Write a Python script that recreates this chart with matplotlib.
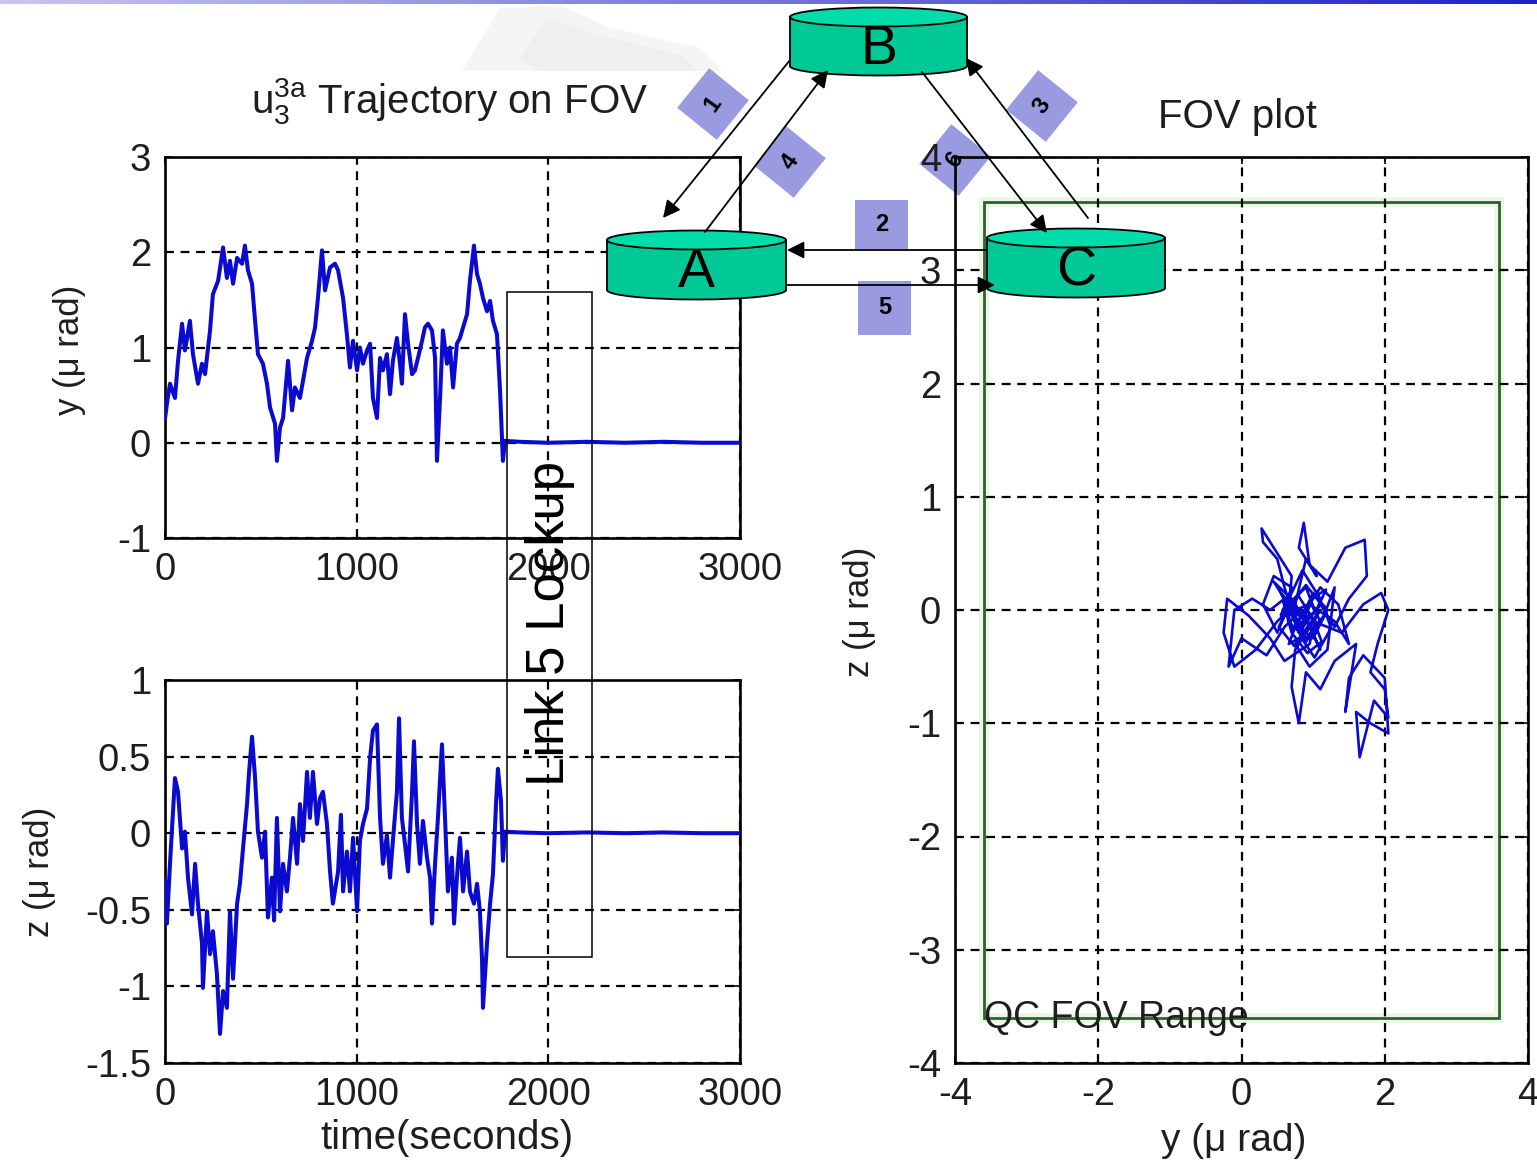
import numpy as np
import matplotlib
matplotlib.use('Agg')
import matplotlib.pyplot as plt
from matplotlib.patches import Ellipse, Rectangle, Polygon
import matplotlib.transforms as mtransforms

plt.rcParams['font.family'] = 'Liberation Sans'
plt.rcParams['mathtext.fontset'] = 'custom'
plt.rcParams['mathtext.rm'] = 'Liberation Sans'
plt.rcParams['mathtext.it'] = 'Liberation Sans'

# ---------------- data ----------------
# y-axis pointing error versus time (seconds, micro-radians)
t_y = [0, 10, 26, 52, 68, 89, 104, 130, 146, 172, 193, 209, 235, 250, 277, 303, 323, 339, 355,
       376, 402, 417, 433, 454, 470, 485, 511, 532, 548, 574, 584, 600, 616, 642, 663, 678, 704,
       720, 741, 767, 783, 798, 819, 835, 861, 887, 903, 929, 949, 965, 981, 1002, 1017, 1033,
       1054, 1070, 1085, 1106, 1122, 1137, 1158, 1174, 1189, 1210, 1226, 1236, 1252, 1268, 1289,
       1304, 1320, 1341, 1356, 1372, 1393, 1409, 1419, 1435, 1450, 1471, 1487, 1503, 1523, 1539,
       1555, 1576, 1591, 1612, 1628, 1643, 1659, 1680, 1696, 1711, 1732, 1748, 1763, 1774,
       1850, 2000, 2200, 2400, 2600, 2800, 3000]
y_err = [0.25, 0.41, 0.62, 0.47, 0.86, 1.25, 0.97, 1.28, 0.93, 0.62, 0.83, 0.72, 1.18, 1.56, 1.70,
         2.05, 1.73, 1.91, 1.67, 1.94, 1.88, 2.07, 1.81, 1.67, 1.28, 0.93, 0.83, 0.62, 0.37, 0.20,
         -0.19, 0.16, 0.26, 0.86, 0.34, 0.58, 0.47, 0.65, 0.89, 1.07, 1.21, 1.52, 2.02, 1.60, 1.84,
         1.88, 1.81, 1.52, 1.14, 0.79, 1.07, 0.76, 1.00, 0.83, 0.97, 1.04, 0.47, 0.26, 0.89, 0.76,
         0.93, 0.51, 0.86, 1.10, 0.83, 0.62, 1.35, 1.04, 0.72, 0.76, 0.89, 1.07, 1.21, 1.25, 1.18,
         0.89, -0.19, 0.47, 1.18, 0.83, 1.00, 0.58, 1.04, 1.10, 1.21, 1.35, 1.70, 2.07, 1.77, 1.67,
         1.52, 1.38, 1.49, 1.28, 1.14, 0.55, -0.19, 0.02,
         0.01, 0.0, 0.01, 0.0, 0.01, 0.0, 0.0]

# z-axis pointing error versus time
t_z = [0, 10, 26, 52, 68, 89, 104, 120, 141, 157, 172, 193, 198, 219, 235, 250, 271, 287, 303,
       323, 339, 355, 376, 391, 407, 428, 438, 454, 470, 485, 506, 522, 537, 558, 569, 584, 600,
       616, 636, 652, 668, 689, 704, 720, 741, 756, 772, 793, 809, 824, 845, 861, 876, 903, 918,
       929, 949, 965, 981, 1002, 1017, 1033, 1054, 1070, 1085, 1106, 1122, 1137, 1158, 1174,
       1189, 1210, 1221, 1236, 1252, 1268, 1289, 1299, 1315, 1330, 1346, 1367, 1383, 1393, 1409,
       1424, 1445, 1461, 1476, 1497, 1508, 1523, 1539, 1555, 1576, 1591, 1612, 1628, 1643, 1654,
       1659, 1680, 1696, 1711, 1727, 1737, 1753, 1763, 1774,
       1850, 2000, 2200, 2400, 2600, 2800, 3000]
z_err = [-0.30, -0.59, -0.20, 0.36, 0.27, -0.10, 0.01, -0.29, -0.53, -0.20, -0.46, -0.72, -1.01,
         -0.51, -0.79, -0.64, -0.92, -1.31, -1.03, -1.14, -0.51, -0.95, -0.46, -0.33, -0.10, 0.19,
         0.39, 0.63, 0.36, 0.01, -0.16, 0.01, -0.55, -0.29, -0.57, 0.10, -0.51, -0.20, -0.38,
         -0.16, 0.10, -0.20, 0.19, -0.05, 0.40, 0.10, 0.40, 0.06, 0.23, 0.27, 0.06, -0.25, -0.46,
         -0.25, 0.12, -0.38, -0.12, -0.38, -0.03, -0.51, -0.05, 0.06, 0.16, 0.49, 0.67, 0.71, 0.10,
         -0.20, -0.01, -0.29, -0.05, 0.27, 0.75, 0.10, -0.07, -0.25, 0.27, 0.60, 0.06, -0.20, 0.08,
         -0.16, -0.29, -0.59, -0.20, 0.10, 0.58, 0.10, -0.38, -0.16, -0.59, -0.29, -0.03, -0.38,
         -0.12, -0.38, -0.46, -0.33, -0.51, -0.82, -1.14, -0.72, -0.46, -0.27, 0.19, 0.42, 0.21,
         -0.18, 0.01,
         0.005, 0.0, 0.005, 0.0, 0.005, 0.0, 0.0]

# trajectory on the field of view (y, z in micro-radians)
fov_y = [0.9, 0.7, 0.5, 0.3, 0.45, 0.7, 0.55, 0.85, 1.1, 0.95, 0.6, 0.4, 0.1, -0.2, -0.25, -0.1,
         0.2, 0.5, 0.75, 0.9, 1.05, 0.8, 0.87, 0.95, 1.2, 1.45, 1.72, 1.75, 1.5, 1.3, 1.1, 0.8,
         0.6, 0.5, 0.3, 0.28, 0.5, 0.7, 0.65, 0.9, 1.15, 1.3, 1.2, 0.95, 0.75, 1.0, 1.4, 1.7,
         1.95, 2.05, 1.9, 1.8, 2.0, 2.05, 1.85, 1.65, 1.6, 1.8, 2.05, 2.0, 1.7, 1.5, 1.45, 1.6,
         1.3, 1.1, 0.9, 0.8, 0.7, 0.75, 0.95, 1.1, 0.85, 0.6, 0.35, 0.0, -0.18, -0.1, 0.15, 0.4,
         0.6, 0.85, 1.0, 1.2, 1.0, 0.8, 0.65, 0.9, 1.05, 0.9, 0.7, 0.55, 0.75, 0.95, 1.3, 1.5,
         1.35, 1.1, 0.9, 0.72, 0.62, 0.8, 1.0, 1.12, 0.92, 0.7, 0.58, 0.82, 1.05, 1.18, 0.98,
         0.78, 0.66, 0.88, 1.08, 0.95, 0.74, 0.52, 0.68, 0.9, 1.15, 1.25, 1.02, 0.84, 0.62, 0.45,
         0.66, 0.86, 1.04, 0.88, 0.7, 0.9, 1.1, 0.97, 0.8, 0.95, 0.86]
fov_z = [-0.1, 0.1, -0.2, 0.05, 0.3, 0.2, -0.05, 0.35, 0.1, -0.3, -0.45, -0.25, -0.05, 0.1,
         -0.2, -0.5, -0.35, -0.1, 0.05, 0.45, 0.3, 0.55, 0.77, 0.4, 0.25, 0.55, 0.62, 0.3, 0.1,
         -0.15, 0.05, -0.2, 0.2, 0.45, 0.6, 0.72, 0.5, 0.3, -0.1, -0.25, -0.05, 0.2, -0.35, -0.5,
         -0.3, -0.1, -0.2, 0.05, 0.15, 0.0, -0.3, -0.55, -0.7, -0.95, -0.8, -1.3, -0.9, -1.0,
         -1.09, -0.6, -0.4, -0.6, -0.9, -0.3, -0.45, -0.7, -0.55, -1.0, -0.68, -0.35, -0.15,
         -0.35, 0.0, -0.15, -0.4, -0.25, -0.5, 0.0, 0.1, 0.0, 0.1, -0.05, 0.15, 0.0, -0.25,
         -0.15, 0.05, 0.2, -0.05, -0.2, -0.05, 0.15, 0.0, 0.05, -0.1, -0.3, 0.05, 0.2, 0.0,
         -0.18, 0.02, 0.12, -0.08, -0.28, -0.38, -0.2, 0.08, -0.12, 0.0, 0.18, 0.1, -0.1, -0.3,
         -0.22, -0.02, -0.12, -0.32, -0.15, 0.05, 0.22, 0.02, -0.16, -0.42, -0.25, 0.08, 0.25,
         0.12, -0.06, -0.2, -0.08, 0.0, -0.28, -0.1, 0.06, -0.18, -0.04, -0.12]

time_ticks = [0, 1000, 2000, 3000]
y_ticks = [-1, 0, 1, 2, 3]
z_ticks = [-1.5, -1, -0.5, 0, 0.5, 1]
fov_ticks = [-4, -2, 0, 2, 4]
fov_z_ticks = [-4, -3, -2, -1, 0, 1, 2, 3, 4]
qc_fov_half = 3.6          # half-width of the QC field-of-view square
lockup_window = [1785, 2230]  # time span marked as the link 5 lockup

# ---------------- figure ----------------
W, H = 1537, 1163
fig = plt.figure(figsize=(W / 100, H / 100), dpi=100)
fig.patch.set_facecolor('white')


def fx(x):
    return x / W


def fy(y):
    return 1 - y / H


TXT = '#1e1e1e'
LINE = '#0a0ad0'
TICK_FS = 27.5
LAV = '#9a9ae0'

# background layer: header bar and faint watermark
bg = fig.add_axes([0, 0, 1, 1], zorder=-5)
bg.set_xlim(0, W)
bg.set_ylim(H, 0)
bg.axis('off')
grad = np.linspace(0, 1, 256)
c0 = np.array([0.78, 0.78, 0.94])
c1 = np.array([0.13, 0.13, 0.78])
bar = (c0[None, :] * (1 - grad[:, None]) + c1[None, :] * grad[:, None])[None, :, :]
bg.imshow(bar, extent=[0, W, 4, 0], aspect='auto')
bg.add_patch(Polygon([(462, 71), (500, 8), (560, 5), (610, 28), (700, 48), (722, 71)],
                     closed=True, facecolor='#f5f5f5', edgecolor='none'))
bg.add_patch(Polygon([(520, 60), (545, 18), (600, 35), (680, 55), (700, 71), (540, 71)],
                     closed=True, facecolor='#efefef', edgecolor='none'))

# middle layer: numbered link markers (drawn beneath the plot frames)
mid = fig.add_axes([0, 0, 1, 1], zorder=-1)
mid.set_xlim(0, W)
mid.set_ylim(H, 0)
mid.axis('off')
mid.patch.set_alpha(0)


def diamond(cx, cy, label, half=36, ang=-6, rot=55):
    a = np.deg2rad(ang + np.arange(4) * 90)
    pts = np.column_stack([cx + half * np.cos(a), cy + half * np.sin(a)])
    mid.add_patch(Polygon(pts, closed=True, facecolor=LAV, edgecolor='none'))
    mid.text(cx, cy, label, fontsize=17, fontweight='bold', rotation=rot,
             ha='center', va='center', color='black')


def square(x0, y0, x1, y1, label):
    mid.add_patch(Rectangle((x0, y0), x1 - x0, y1 - y0, facecolor=LAV, edgecolor='none'))
    mid.text((x0 + x1) / 2, (y0 + y1) / 2, label, fontsize=17, fontweight='bold',
             ha='center', va='center', color='black')


diamond(713, 104, '1')
diamond(790, 162, '4')
diamond(1042, 106, '3')
diamond(955, 160, '6')
square(855, 200, 908, 249, '2')
square(858, 281, 911, 335, '5')


def style_axes(ax):
    ax.patch.set_alpha(0)
    for s in ax.spines.values():
        s.set_linewidth(1.9)
        s.set_color('black')
    ax.grid(True, color='black', linestyle=(0, (4, 3)), linewidth=1.6)
    ax.set_axisbelow(False)
    ax.tick_params(direction='in', length=5, width=1.2, top=True, right=True,
                   labelsize=TICK_FS, labelcolor=TXT, pad=10)


# top-left: y error vs time
ax1 = fig.add_axes([fx(165), fy(538), fx(740) - fx(165), fy(157) - fy(538)], zorder=1)
style_axes(ax1)
ax1.plot(t_y, y_err, color=LINE, linewidth=2.9, zorder=3)
ax1.set_xlim(0, 3000)
ax1.set_ylim(-1, 3)
ax1.set_xticks(time_ticks)
ax1.set_yticks(y_ticks)
ax1.set_xticklabels([str(v) for v in time_ticks])
ax1.set_yticklabels([f'{v:g}' for v in y_ticks])

# bottom-left: z error vs time
ax2 = fig.add_axes([fx(165), fy(1063), fx(740) - fx(165), fy(680) - fy(1063)], zorder=1)
style_axes(ax2)
ax2.plot(t_z, z_err, color=LINE, linewidth=2.9, zorder=3)
ax2.set_xlim(0, 3000)
ax2.set_ylim(-1.5, 1)
ax2.set_xticks(time_ticks)
ax2.set_yticks(z_ticks)
ax2.set_xticklabels([str(v) for v in time_ticks])
ax2.set_yticklabels([f'{v:g}' for v in z_ticks])

# right: trajectory on the field of view
ax3 = fig.add_axes([fx(955), fy(1063), fx(1528) - fx(955), fy(157) - fy(1063)], zorder=1)
style_axes(ax3)
ax3.plot(fov_y, fov_z, color=LINE, linewidth=1.9, zorder=3)
ax3.add_patch(Rectangle((-qc_fov_half, -qc_fov_half), 2 * qc_fov_half, 2 * qc_fov_half,
                        fill=False, edgecolor='#eaf8e4', linewidth=7, zorder=2))
ax3.add_patch(Rectangle((-qc_fov_half, -qc_fov_half), 2 * qc_fov_half, 2 * qc_fov_half,
                        fill=False, edgecolor='#345f34', linewidth=2.0, zorder=2.5))
ax3.text(-qc_fov_half, -qc_fov_half, 'QC FOV Range', fontsize=27, color=TXT,
         ha='left', va='center', zorder=4)
ax3.set_xlim(-4, 4)
ax3.set_ylim(-4, 4)
ax3.set_xticks(fov_ticks)
ax3.set_yticks(fov_z_ticks)
ax3.set_xticklabels([str(v) for v in fov_ticks])
ax3.set_yticklabels([str(v) for v in fov_z_ticks])

# titles and axis labels
fig.text(fx(450), fy(101), r'$\mathregular{u_3^{3a}}$ Trajectory on FOV', fontsize=29,
         color=TXT, ha='center', va='center')
fig.text(fx(1237), fy(117), 'FOV plot', fontsize=29, color=TXT, ha='center', va='center')
fig.text(fx(70), fy(350), 'y (\u03bc rad)', fontsize=25, color=TXT, rotation=90,
         ha='center', va='center')
fig.text(fx(40), fy(872), 'z (\u03bc rad)', fontsize=25, color=TXT, rotation=90,
         ha='center', va='center')
fig.text(fx(860), fy(612), 'z (\u03bc rad)', fontsize=25, color=TXT, rotation=90,
         ha='center', va='center')
fig.text(fx(447), fy(1138), 'time(seconds)', fontsize=29, color=TXT, ha='center', va='center')
fig.text(fx(1234), fy(1141), 'y (\u03bc rad)', fontsize=28, color=TXT, ha='center', va='center')

# ---------------- network diagram overlay ----------------
ov = fig.add_axes([0, 0, 1, 1], zorder=10)
ov.set_xlim(0, W)
ov.set_ylim(H, 0)
ov.axis('off')
ov.patch.set_alpha(0)

# lockup window box spanning both time plots
blend = mtransforms.blended_transform_factory(ax1.transData, ov.transData)
ov.add_patch(Rectangle((lockup_window[0], 292), lockup_window[1] - lockup_window[0], 665,
                       transform=blend, fill=False, edgecolor='black', linewidth=1.1))
ov.text(sum(lockup_window) / 2, 623, 'Link 5 Lockup', transform=blend, rotation=90,
        fontsize=38, color='black', ha='center', va='center')

BODY = '#00c896'
TOP = '#00dcaa'


def cylinder(x0, x1, ytop, ybot, label):
    cx = (x0 + x1) / 2
    w = x1 - x0
    eh = 19
    ov.add_patch(Ellipse((cx, ybot), w, eh, facecolor=BODY, edgecolor='black', lw=1.3, zorder=1))
    ov.add_patch(Rectangle((x0, ytop), w, ybot - ytop, facecolor=BODY, edgecolor='none', zorder=2))
    ov.plot([x0, x0], [ytop, ybot], color='black', lw=1.3, zorder=3)
    ov.plot([x1, x1], [ytop, ybot], color='black', lw=1.3, zorder=3)
    ov.add_patch(Ellipse((cx, ytop), w, eh, facecolor=TOP, edgecolor='black', lw=1.3, zorder=4))
    ov.text(cx, (ytop + ybot) / 2 + 8, label, fontsize=40, ha='center', va='center',
            color='black', zorder=5)


def arrow(p0, p1):
    ov.annotate('', xy=p1, xytext=p0,
                arrowprops=dict(arrowstyle='-|>', color='black', lw=1.3,
                                mutation_scale=26, shrinkA=0, shrinkB=0), zorder=6)


cylinder(790, 967, 17, 66, 'B')
cylinder(607, 786, 240, 290, 'A')
cylinder(987, 1165, 238, 288, 'C')

arrow((790, 60), (663, 218))
arrow((705, 232), (828, 70))
arrow((922, 72), (1047, 233))
arrow((1088, 218), (966, 58))
arrow((987, 250), (787, 250))
arrow((787, 285), (995, 285))

fig.savefig('out.png', dpi=100, facecolor='white')
